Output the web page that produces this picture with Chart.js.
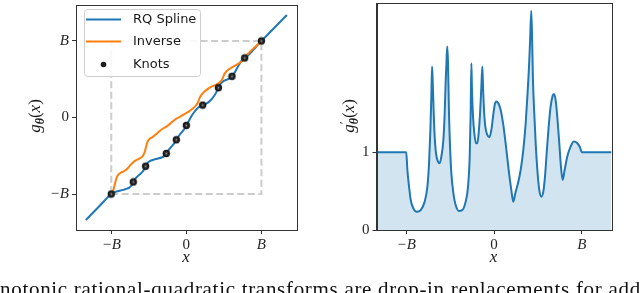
<!DOCTYPE html>
<html><head><meta charset="utf-8">
<script src="https://cdn.jsdelivr.net/npm/chart.js@4.4.1/dist/chart.umd.min.js"></script>
<style>
html,body{margin:0;padding:0;background:#fff;}
body{width:640px;height:293px;overflow:hidden;position:relative;}
canvas{position:absolute;top:0;}
#c1{left:0;} #c2{left:320px;}
#cap{position:absolute;left:0;top:279px;font-family:'Liberation Serif',serif;font-size:21px;line-height:21px;letter-spacing:0.7px;white-space:nowrap;color:#111;}
</style></head>
<body>
<canvas id="c1" width="320" height="293"></canvas>
<canvas id="c2" width="320" height="293"></canvas>
<div id="cap">notonic rational-quadratic transforms are drop-in replacements for add</div>
<script>
// ---- data (B = 1) ----
const tickVals = [-1, 0, 1];
const tickLabels = ['\u2212B', '0', 'B'];
const derivTickVals = [0, 1];
const derivTickLabels = ['0', '1'];

const boxX = [-1, 1, 1, -1, -1];
const boxY = [-1, -1, 1, 1, -1];

const knotX = [-1, -0.707, -0.543, -0.267, -0.133, 0, 0.217, 0.427, 0.608, 0.777, 1];
const knotY = [-1, -0.842, -0.637, -0.470, -0.291, -0.103, 0.162, 0.389, 0.538, 0.778, 1];

const splineX = [-1.339, -1.17, -1,
  -0.97, -0.93, -0.88, -0.83, -0.79, -0.76, -0.735, -0.72, -0.707,
  -0.69, -0.66, -0.62, -0.58, -0.56, -0.543,
  -0.52, -0.50, -0.47, -0.43, -0.38, -0.33, -0.30, -0.28, -0.267,
  -0.25, -0.22, -0.19, -0.16, -0.133,
  -0.11, -0.08, -0.05, -0.02, 0,
  0.04, 0.08, 0.12, 0.16, 0.19, 0.217,
  0.26, 0.30, 0.34, 0.38, 0.41, 0.427,
  0.44, 0.46, 0.49, 0.52, 0.55, 0.58, 0.608,
  0.64, 0.68, 0.72, 0.75, 0.777,
  0.82, 0.87, 0.92, 0.96, 1,
  1.17, 1.339];
const splineY = [-1.339, -1.17, -1,
  -0.980, -0.967, -0.955, -0.942, -0.930, -0.917, -0.894, -0.872, -0.842,
  -0.811, -0.778, -0.743, -0.704, -0.674, -0.637,
  -0.597, -0.578, -0.562, -0.549, -0.536, -0.522, -0.507, -0.491, -0.470,
  -0.443, -0.405, -0.372, -0.335, -0.291,
  -0.252, -0.215, -0.179, -0.141, -0.103,
  -0.032, 0.036, 0.091, 0.130, 0.150, 0.162,
  0.179, 0.204, 0.243, 0.296, 0.351, 0.389,
  0.416, 0.446, 0.472, 0.487, 0.499, 0.515, 0.538,
  0.583, 0.653, 0.720, 0.757, 0.778,
  0.809, 0.859, 0.915, 0.959, 1,
  1.17, 1.339];

const derivX = [-1.339, -1,
  -0.987, -0.968, -0.949, -0.919, -0.881, -0.835, -0.790, -0.759, -0.740, -0.725, -0.714, -0.706,
  -0.699, -0.687, -0.676, -0.661, -0.638, -0.619, -0.600, -0.577, -0.562, -0.550, -0.539, -0.532,
  -0.524, -0.513, -0.501, -0.486, -0.463, -0.437, -0.399, -0.361, -0.323, -0.296, -0.277, -0.266, -0.258,
  -0.251, -0.239, -0.224, -0.205, -0.190, -0.175, -0.159, -0.144, -0.133,
  -0.125, -0.114, -0.099, -0.076, -0.053, -0.030, -0.011, 0.008, 0.027, 0.049, 0.076, 0.106, 0.137, 0.167, 0.197, 0.220,
  0.243, 0.273, 0.304, 0.334, 0.361, 0.380, 0.399, 0.410, 0.425,
  0.437, 0.444, 0.459, 0.475, 0.494, 0.516, 0.539, 0.562, 0.581, 0.600, 0.623, 0.645, 0.668, 0.683,
  0.702, 0.721, 0.744, 0.763, 0.782,
  0.805, 0.835, 0.873, 0.911, 0.949, 0.980, 1, 1.339];
const derivY = [1, 1,
  0.772, 0.558, 0.386, 0.279, 0.236, 0.257, 0.365, 0.558, 0.858, 1.287, 1.716, 2.102,
  1.930, 1.501, 1.201, 0.987, 0.879, 0.858, 0.944, 1.158, 1.501, 1.930, 2.231, 2.359,
  2.145, 1.501, 1.072, 0.729, 0.472, 0.322, 0.245, 0.257, 0.365, 0.558, 0.944, 1.501, 2.145,
  1.802, 1.459, 1.244, 1.115, 1.115, 1.244, 1.501, 1.845, 2.102,
  1.845, 1.544, 1.330, 1.223, 1.193, 1.287, 1.459, 1.609, 1.652, 1.630, 1.544, 1.351, 1.072, 0.772, 0.515, 0.365,
  0.472, 0.601, 0.772, 1.030, 1.373, 1.716, 2.102, 2.402, 2.820,
  2.317, 1.930, 1.501, 1.115, 0.772, 0.515, 0.429, 0.493, 0.686, 0.987, 1.330, 1.587, 1.725, 1.750,
  1.673, 1.459, 1.115, 0.815, 0.644,
  0.772, 0.944, 1.072, 1.137, 1.115, 1.064, 1, 1];

// ---- helpers ----
const BLUE = '#1f77b4', ORANGE = '#ff7f0e';
const pts = (xs, ys) => xs.map((x, i) => ({x, y: ys[i]}));
const splinePts = pts(splineX, splineY);
const inversePts = splinePts.filter(p => p.x >= -1 && p.x <= 1).map(p => ({x: p.y, y: p.x}));

const knotImg = (() => {
  const c = document.createElement('canvas'); c.width = 9; c.height = 9;
  const g = c.getContext('2d');
  g.fillStyle = '#161616'; g.beginPath(); g.arc(4.5, 4.5, 3.7, 0, Math.PI * 2); g.fill();
  g.strokeStyle = 'rgba(255,255,255,0.35)'; g.lineWidth = 0.7;
  for (let a = 0; a < 3; a++) {
    const t = a * Math.PI / 3 + Math.PI / 6;
    g.beginPath(); g.moveTo(4.5 - 2.1 * Math.cos(t), 4.5 - 2.1 * Math.sin(t));
    g.lineTo(4.5 + 2.1 * Math.cos(t), 4.5 + 2.1 * Math.sin(t)); g.stroke();
  }
  return c;
})();

function axis(min, max, vals, labels, fit, horizontal) {
  return {
    type: 'linear', min, max,
    afterBuildTicks: s => { s.ticks = vals.map(v => ({value: v})); },
    afterFit: s => {
      if (horizontal) { s.height = fit; s.paddingLeft = 0; s.paddingRight = 0; }
      else { s.width = fit; s.paddingTop = 0; s.paddingBottom = 0; }
    },
    ticks: {
      callback: (v, i) => labels[i],
      font: ctx => ({family: "'Liberation Serif', serif", size: 15,
        style: /B/.test(labels[ctx.index] || '') ? 'italic' : 'normal'}),
      color: '#262626', padding: horizontal ? 2 : 3, maxRotation: 0, autoSkip: false
    },
    grid: {drawOnChartArea: false, drawTicks: true, tickLength: 4, tickColor: '#333', color: '#333'},
    border: {display: true, color: '#333', width: 1}
  };
}

function drawRich(ctx, parts, cx, cy, rot) {
  ctx.save(); ctx.translate(cx, cy); ctx.rotate(rot);
  let w = 0;
  parts.forEach(p => { ctx.font = p.f; p.w = ctx.measureText(p.t).width; if (!p.nx) w += p.w; });
  let x = -w / 2; ctx.textBaseline = 'alphabetic'; ctx.fillStyle = '#1a1a1a';
  parts.forEach(p => { ctx.font = p.f; ctx.fillText(p.t, x, p.dy || 0); if (!p.nx) x += p.w; });
  ctx.restore();
}
const SER = "'Liberation Serif', serif";
const F = (s, st) => (st || '') + ' ' + s + 'px ' + SER;

const frame = {
  id: 'frame',
  afterDatasetsDraw(chart) {
    const {ctx, chartArea: a} = chart;
    ctx.save(); ctx.strokeStyle = '#333'; ctx.lineWidth = 1;
    ctx.strokeRect(Math.round(a.left) + 0.5, Math.round(a.top) + 0.5,
      Math.round(a.right - a.left), Math.round(a.bottom - a.top));
    ctx.restore();
  }
};

const leftDecor = {
  id: 'leftDecor',
  afterDraw(chart) {
    const ctx = chart.ctx;
    // legend
    ctx.save();
    ctx.fillStyle = 'rgba(255,255,255,0.85)'; ctx.strokeStyle = '#cfcfcf'; ctx.lineWidth = 1;
    ctx.beginPath(); ctx.roundRect(84.5, 9.5, 116, 67, 3); ctx.fill(); ctx.stroke();
    ctx.lineWidth = 2;
    ctx.strokeStyle = BLUE; ctx.beginPath(); ctx.moveTo(86, 19.5); ctx.lineTo(121, 19.5); ctx.stroke();
    ctx.strokeStyle = ORANGE; ctx.beginPath(); ctx.moveTo(86, 41.5); ctx.lineTo(121, 41.5); ctx.stroke();
    ctx.fillStyle = '#1c1c1c'; ctx.beginPath(); ctx.arc(103.5, 64.5, 2.8, 0, Math.PI * 2); ctx.fill();
    ctx.fillStyle = '#1a1a1a'; ctx.font = "13px 'DejaVu Sans', sans-serif"; ctx.textBaseline = 'middle';
    ctx.fillText('RQ Spline', 133, 19.5);
    ctx.fillText('Inverse', 133, 42);
    ctx.fillText('Knots', 133, 64.5);
    ctx.restore();
    // axis titles
    drawRich(ctx, [{t: 'x', f: F(17, 'italic')}], 186, 262, 0);
    drawRich(ctx, [
      {t: 'g', f: F(17, 'italic')},
      {t: '\u03B8', f: F(12, 'italic bold'), dy: 4},
      {t: '(', f: F(17)}, {t: 'x', f: F(17, 'italic')}, {t: ')', f: F(17)}
    ], 40, 116, -Math.PI / 2);
  }
};

const rightDecor = {
  id: 'rightDecor',
  afterDraw(chart) {
    const ctx = chart.ctx;
    drawRich(ctx, [{t: 'x', f: F(17, 'italic')}], 173.5, 262, 0);
    drawRich(ctx, [
      {t: 'g', f: F(17, 'italic')},
      {t: '\u2032', f: F(13), dy: -6, nx: true},
      {t: '\u03B8', f: F(12, 'italic bold'), dy: 4},
      {t: '(', f: F(17)}, {t: 'x', f: F(17, 'italic')}, {t: ')', f: F(17)}
    ], 34, 116, -Math.PI / 2);
  }
};

Chart.defaults.font.family = "'Liberation Serif', serif";

new Chart(document.getElementById('c1'), {
  type: 'scatter',
  data: {
    datasets: [
      {label: 'Knots', data: pts(knotX, knotY), pointStyle: knotImg, pointRadius: 4, order: 0},
      {label: 'Inverse', data: inversePts, showLine: true, borderColor: ORANGE, borderWidth: 2,
        pointRadius: 0, cubicInterpolationMode: 'monotone', order: 1},
      {label: 'RQ Spline', data: splinePts, showLine: true, borderColor: BLUE, borderWidth: 2,
        pointRadius: 0, cubicInterpolationMode: 'monotone', order: 2},
      {label: 'box', data: pts(boxX, boxY), showLine: true, borderColor: '#cccccc', borderWidth: 2,
        borderDash: [7, 3.5], pointRadius: 0, order: 3}
    ]
  },
  options: {
    responsive: false, animation: false, devicePixelRatio: 1,
    layout: {padding: {left: 0, top: 3, right: 23.3, bottom: 0}},
    plugins: {legend: {display: false}, tooltip: {enabled: false}},
    scales: {
      x: axis(-1.47, 1.47, tickVals, tickLabels, 63, true),
      y: axis(-1.47, 1.47, tickVals, tickLabels, 76, false)
    }
  },
  plugins: [frame, leftDecor]
});

new Chart(document.getElementById('c2'), {
  type: 'scatter',
  data: {
    datasets: [
      {label: 'derivative', data: pts(derivX, derivY), showLine: true, borderColor: BLUE, borderWidth: 2,
        pointRadius: 0, cubicInterpolationMode: 'monotone', fill: 'origin',
        backgroundColor: 'rgba(31,119,180,0.2)'}
    ]
  },
  options: {
    responsive: false, animation: false, devicePixelRatio: 1,
    layout: {padding: {left: 0, top: 3, right: 28.5, bottom: 0}},
    plugins: {legend: {display: false}, tooltip: {enabled: false}, filler: {propagate: false}},
    scales: {
      x: axis(-1.339, 1.339, tickVals, tickLabels, 63, true),
      y: axis(0, 2.92, derivTickVals, derivTickLabels, 56.5, false)
    }
  },
  plugins: [frame, rightDecor]
});
</script>
</body></html>
